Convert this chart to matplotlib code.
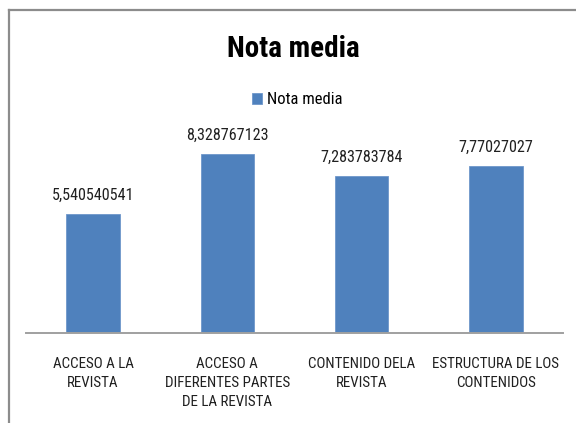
import matplotlib.pyplot as plt
from matplotlib.lines import Line2D

categories = [
    "ACCESO A LA\nREVISTA",
    "ACCESO A\nDIFERENTES PARTES\nDE LA REVISTA",
    "CONTENIDO DELA\nREVISTA",
    "ESTRUCTURA DE LOS\nCONTENIDOS",
]
values = [5.540540541, 8.328767123, 7.283783784, 7.77027027]
value_labels = ["5,540540541", "8,328767123", "7,283783784", "7,77027027"]
series_name = "Nota media"

FONT = ["Roboto Condensed", "Lato", "DejaVu Sans"]
BAR_BLUE = "#4F81BD"
AXIS_GREY = "#A0A0A0"

W, H = 576, 423
fig = plt.figure(figsize=(W / 100, H / 100), dpi=100)
fig.patch.set_facecolor("white")

# chart frame (cropped on the right and bottom in the original)
fig.add_artist(Line2D([9 / W, 9 / W], [-0.1, 1 - 10 / H], transform=fig.transFigure,
                      color="#8C8C8C", linewidth=1.6))
fig.add_artist(Line2D([9 / W, 1.1], [1 - 10 / H, 1 - 10 / H], transform=fig.transFigure,
                      color="#8C8C8C", linewidth=1.6))

ax = fig.add_axes([26 / W, 90 / H, 537 / W, 193.5 / H])
x = range(len(categories))
bars = ax.bar(x, values, width=0.4, color=BAR_BLUE, edgecolor="#6F97CB",
              linewidth=0.6, label=series_name, zorder=2)
ax.set_xlim(-0.5, len(categories) - 0.5)
ax.set_ylim(0, 9)

for b, lab in zip(bars, value_labels):
    ax.annotate(lab, (b.get_x() + b.get_width() / 2, b.get_height()),
                xytext=(0, 8), textcoords="offset points", ha="center", va="bottom",
                fontsize=11.6, family=FONT, color="#202020")

ax.set_xticks(list(x))
ax.set_xticklabels(categories, fontsize=10.8, family=FONT, color="#202020",
                   linespacing=1.45, va="top")
ax.tick_params(axis="x", length=0, pad=17)
ax.set_yticks([])
for side in ["top", "right", "left"]:
    ax.spines[side].set_visible(False)
ax.spines["bottom"].set_color(AXIS_GREY)
ax.spines["bottom"].set_linewidth(1.4)

fig.text(293 / W, 1 - 49 / H, "Nota media", ha="center", va="center",
         fontsize=21, fontweight="bold", family=FONT, color="black")

fig.legend(handles=[bars], labels=[series_name], loc="center",
           bbox_to_anchor=(297 / W, 1 - 100 / H), frameon=False,
           handlelength=0.6, handleheight=0.6, handletextpad=0.3,
           prop={"family": FONT, "size": 12})

fig.savefig("out.png", dpi=100)
